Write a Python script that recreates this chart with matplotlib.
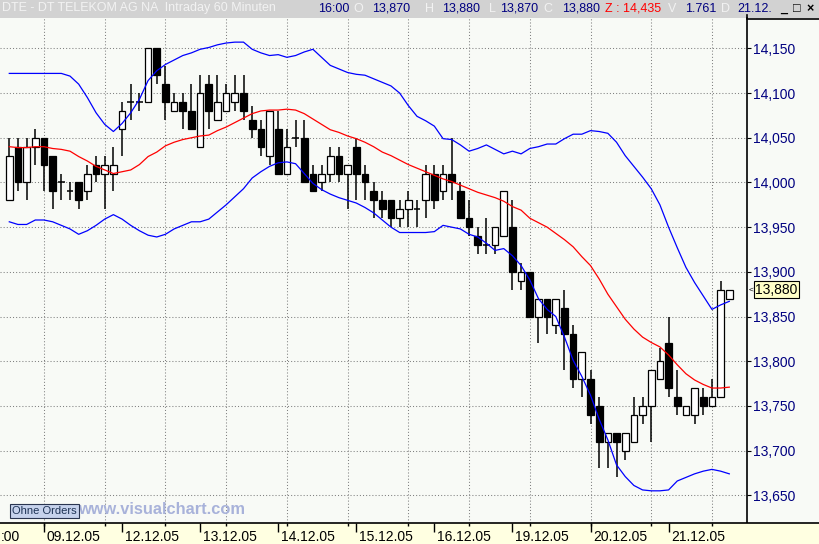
import matplotlib
matplotlib.use('Agg')
import matplotlib.pyplot as plt
from matplotlib.patches import Rectangle
from matplotlib.lines import Line2D
from matplotlib.ticker import FuncFormatter
import numpy as np

plt.rcParams['font.family'] = ['Liberation Sans', 'DejaVu Sans']

# --- Daten: DTE 60-Minuten-Kerzen 08.12.05 14:00 bis 21.12.05 16:00 ---
opens = [13.980, 14.040, 14.000, 14.040, 14.050, 14.030, 14.000, 13.990, 14.000, 13.990,
         14.020, 14.010, 14.010, 14.060, 14.090, 14.090, 14.090, 14.150, 14.110, 14.080,
         14.090, 14.080, 14.040, 14.110, 14.070, 14.080, 14.090, 14.100, 14.070, 14.060,
         14.030, 14.060, 14.010, 14.050, 14.050, 14.010, 14.000, 14.010, 14.030, 14.010,
         14.040, 14.010, 13.990, 13.980, 13.980, 13.960, 13.970, 13.970, 13.980, 14.010,
         13.990, 14.010, 13.990, 13.960, 13.940, 13.930, 13.930, 13.940, 13.950, 13.890,
         13.900, 13.850, 13.870, 13.840, 13.860, 13.830, 13.780, 13.780, 13.750, 13.710,
         13.720, 13.700, 13.710, 13.740, 13.750, 13.780, 13.820, 13.760, 13.740, 13.740,
         13.760, 13.750, 13.760, 13.870]
highs = [14.050, 14.050, 14.050, 14.060, 14.050, 14.030, 14.010, 14.000, 14.000, 14.020,
         14.030, 14.030, 14.040, 14.090, 14.110, 14.100, 14.150, 14.150, 14.130, 14.100,
         14.100, 14.110, 14.120, 14.120, 14.120, 14.110, 14.120, 14.120, 14.085, 14.070,
         14.080, 14.080, 14.060, 14.070, 14.070, 14.020, 14.020, 14.040, 14.040, 14.020,
         14.050, 14.020, 14.000, 13.990, 13.980, 13.980, 13.990, 13.980, 14.020, 14.020,
         14.020, 14.050, 14.000, 13.980, 13.950, 13.960, 13.950, 13.990, 13.980, 13.910,
         13.900, 13.870, 13.870, 13.870, 13.880, 13.840, 13.810, 13.790, 13.760, 13.720,
         13.720, 13.720, 13.760, 13.760, 13.790, 13.815, 13.850, 13.790, 13.750, 13.770,
         13.770, 13.780, 13.890, 13.880]
lows = [13.980, 13.990, 13.980, 14.020, 13.990, 13.970, 13.980, 13.980, 13.970, 13.980,
        14.000, 13.970, 13.990, 14.030, 14.070, 14.080, 14.090, 14.110, 14.070, 14.080,
        14.060, 14.060, 14.040, 14.060, 14.070, 14.080, 14.080, 14.070, 14.050, 14.030,
        14.020, 14.010, 14.010, 14.040, 14.000, 13.990, 13.990, 14.000, 14.000, 13.970,
        13.980, 13.980, 13.960, 13.960, 13.950, 13.950, 13.950, 13.950, 13.960, 13.970,
        13.980, 13.980, 13.960, 13.940, 13.920, 13.920, 13.920, 13.940, 13.880, 13.880,
        13.850, 13.820, 13.830, 13.830, 13.790, 13.770, 13.760, 13.730, 13.680, 13.680,
        13.670, 13.690, 13.710, 13.730, 13.710, 13.780, 13.760, 13.740, 13.740, 13.730,
        13.740, 13.750, 13.760, 13.870]
closes = [14.030, 14.000, 14.040, 14.050, 14.020, 13.990, 14.000, 13.990, 13.980, 14.010,
          14.010, 14.020, 14.020, 14.080, 14.090, 14.090, 14.150, 14.120, 14.090, 14.090,
          14.080, 14.060, 14.100, 14.080, 14.090, 14.100, 14.100, 14.080, 14.060, 14.040,
          14.080, 14.010, 14.040, 14.050, 14.000, 13.990, 14.010, 14.030, 14.010, 14.020,
          14.010, 14.000, 13.980, 13.970, 13.960, 13.970, 13.980, 13.970, 14.010, 13.980,
          14.010, 14.000, 13.960, 13.950, 13.930, 13.930, 13.950, 13.990, 13.900, 13.900,
          13.850, 13.870, 13.850, 13.870, 13.830, 13.780, 13.810, 13.740, 13.710, 13.720,
          13.710, 13.720, 13.740, 13.750, 13.790, 13.800, 13.770, 13.750, 13.750, 13.770,
          13.750, 13.760, 13.880, 13.880]

# Gleitender Durchschnitt (rot) und Bollinger-Baender (blau)
ma_line = [14.040, 14.039, 14.039, 14.040, 14.040, 14.038, 14.037, 14.035, 14.029, 14.024,
           14.018, 14.014, 14.010, 14.012, 14.014, 14.020, 14.029, 14.034, 14.041, 14.045,
           14.048, 14.050, 14.052, 14.053, 14.058, 14.062, 14.067, 14.072, 14.077, 14.080,
           14.081, 14.081, 14.082, 14.081, 14.077, 14.071, 14.065, 14.059, 14.056, 14.052,
           14.049, 14.045, 14.040, 14.034, 14.030, 14.025, 14.020, 14.016, 14.012, 14.008,
           14.004, 14.001, 13.997, 13.993, 13.989, 13.986, 13.983, 13.979, 13.973, 13.969,
           13.960, 13.955, 13.950, 13.943, 13.936, 13.928, 13.917, 13.907, 13.892, 13.875,
           13.861, 13.847, 13.836, 13.827, 13.821, 13.816, 13.807, 13.796, 13.786, 13.779,
           13.774, 13.770, 13.770, 13.771]
bb_upper = [14.122, 14.122, 14.122, 14.122, 14.122, 14.122, 14.122, 14.119, 14.110, 14.095,
            14.078, 14.065, 14.057, 14.066, 14.078, 14.093, 14.114, 14.125, 14.132, 14.137,
            14.142, 14.145, 14.149, 14.151, 14.154, 14.156, 14.157, 14.157, 14.149, 14.145,
            14.142, 14.143, 14.140, 14.142, 14.146, 14.149, 14.140, 14.131, 14.127, 14.123,
            14.121, 14.120, 14.116, 14.112, 14.108, 14.100, 14.086, 14.074, 14.069, 14.063,
            14.049, 14.048, 14.042, 14.035, 14.038, 14.042, 14.037, 14.032, 14.035, 14.032,
            14.038, 14.040, 14.043, 14.043, 14.049, 14.054, 14.054, 14.058, 14.057, 14.055,
            14.045, 14.030, 14.018, 14.006, 13.993, 13.975, 13.950, 13.927, 13.905, 13.888,
            13.873, 13.858, 13.863, 13.867]
bb_lower = [13.956, 13.953, 13.953, 13.958, 13.958, 13.956, 13.952, 13.948, 13.942, 13.946,
            13.952, 13.959, 13.964, 13.959, 13.952, 13.946, 13.941, 13.939, 13.942, 13.948,
            13.952, 13.956, 13.956, 13.959, 13.967, 13.975, 13.984, 13.993, 14.005, 14.012,
            14.018, 14.022, 14.023, 14.021, 14.010, 13.999, 13.992, 13.987, 13.983, 13.980,
            13.977, 13.972, 13.966, 13.958, 13.950, 13.944, 13.944, 13.944, 13.944, 13.945,
            13.952, 13.950, 13.948, 13.942, 13.939, 13.932, 13.924, 13.926, 13.918, 13.907,
            13.891, 13.870, 13.858, 13.850, 13.827, 13.801, 13.783, 13.762, 13.735, 13.712,
            13.684, 13.671, 13.661, 13.656, 13.655, 13.655, 13.656, 13.666, 13.670, 13.674,
            13.677, 13.679, 13.677, 13.674]

day_labels = ['09.12.05', '12.12.05', '13.12.05', '14.12.05', '15.12.05',
              '16.12.05', '19.12.05', '20.12.05', '21.12.05']
day_start = [4, 13, 22, 31, 40, 49, 58, 67, 76]     # erste Kerze des Tages
grid_bars = [4, 11, 18, 25, 32, 39, 46, 53, 60, 67, 74, 81]
price_ticks = [13.65, 13.70, 13.75, 13.80, 13.85, 13.90, 13.95, 14.00, 14.05, 14.10, 14.15]
last_price = 13.880

# --- Figur ---
W, H = 819, 544
fig = plt.figure(figsize=(W / 100, H / 100), dpi=100)
bg = '#F8FAF6'
fig.patch.set_facecolor(bg)

def fy(py):
    return 1 - py / H

ax = fig.add_axes([0, fy(523), 747 / W, (523 - 18) / H])
ax.set_facecolor(bg)

x = np.arange(len(opens))
o = np.array(opens); c = np.array(closes)
hi = np.array(highs); lo = np.array(lows)
bw = 0.77

# Dochte
ax.vlines(x, lo, hi, color='black', lw=1.1, zorder=3)
up = c > o
down = c < o
doji = c == o
ax.bar(x[up], (c - o)[up], bottom=o[up], width=bw, facecolor='white',
       edgecolor='black', linewidth=0.9, zorder=4)
ax.bar(x[down], (o - c)[down], bottom=c[down], width=bw, facecolor='black',
       edgecolor='black', linewidth=0.9, zorder=4)
ax.hlines(c[doji], x[doji] - bw / 2, x[doji] + bw / 2, color='black', lw=1.1, zorder=4)

# Indikatoren
ax.plot(x, ma_line, color='#FF0000', lw=0.9, zorder=5)
ax.plot(x, bb_upper, color='#0000FF', lw=0.9, zorder=5)
ax.plot(x, bb_lower, color='#0000FF', lw=0.9, zorder=5)

ax.set_xlim(-1.07, 85.04)
ax.set_ylim(13.619, 14.184)

# Gitter
ax.set_xticks(grid_bars)
ax.set_yticks(price_ticks)
ax.grid(True, color='#808080', lw=0.75, linestyle=(0, (1, 2)), zorder=1)
ax.set_axisbelow(True)
ax.tick_params(axis='x', length=0, labelbottom=False)
ax.yaxis.tick_right()
ax.tick_params(axis='y', direction='out', length=3, width=0.8, pad=1.5,
               labelsize=10, labelcolor='#000080', color='black')
ax.yaxis.set_major_formatter(FuncFormatter(lambda v, p: f'{v:.3f}'.replace('.', ',')))
for s in ['top', 'left', 'bottom']:
    ax.spines[s].set_visible(False)
ax.spines['right'].set_color('black')
ax.spines['right'].set_linewidth(1.2)

# Letzter Kurs
ytr = ax.get_yaxis_transform()
ax.text(1.011, last_price, f'{last_price:.3f}'.replace('.', ','), transform=ytr,
        ha='left', va='center', fontsize=10, color='black', zorder=10, clip_on=False,
        bbox=dict(boxstyle='square,pad=0.12', fc='#FFFFC8', ec='black', lw=0.8))
ax.text(1.002, last_price, '<', transform=ytr, ha='left', va='center',
        fontsize=6, color='black', clip_on=False)

# --- Datumsleiste unten ---
bx = fig.add_axes([0, 0, 1, 21 / H])
bx.set_facecolor('#FFFFE1')
bx.set_xlim(-1.07, (W - 9.3) / 8.675)
bx.set_ylim(0, 1)
bx.set_xticks([]); bx.set_yticks([])
for s in ['left', 'right', 'bottom']:
    bx.spines[s].set_visible(False)
bx.spines['top'].set_color('black')
bx.spines['top'].set_linewidth(1.2)
bx.vlines(day_start, 0.55, 1, color='black', lw=1.0)
bx.vlines(grid_bars, 0.85, 1, color='black', lw=1.0)
for d, lab in zip(day_start, day_labels):
    bx.text(d + 0.3, 0.33, lab, ha='left', va='center', fontsize=10, color='black')
# Rest der abgeschnittenen Zeitangabe am linken Rand
fig.text(0.5 / W, fy(537), ':00', ha='left', va='center', fontsize=10, color='black')

# --- Kopfzeile ---
fig.add_artist(Rectangle((0, fy(18)), 1, 18 / H, transform=fig.transFigure,
                         fc='#D2D2D2', ec='none', zorder=0))
fig.add_artist(Line2D([747 / W, 1], [fy(18.5), fy(18.5)], color='black', lw=1.2))
fig.add_artist(Line2D([747 / W, 747 / W], [fy(18), fy(15)], color='black', lw=1.2))
hy = fy(8.5)
faded = '#F2F2F2'
fig.text(2 / W, hy, 'DTE - DT TELEKOM AG NA  Intraday 60 Minuten', ha='left', va='center',
         fontsize=9, color=faded)
head = [(334, '16:00', '#000080'), (391, '13,870', '#000080'), (461, '13,880', '#000080'),
        (519, '13,870', '#000080'), (581, '13,880', '#000080'), (633, 'Z : 14,435', '#FF0000'),
        (701, '1.761', '#000080'), (755, '21.12.', '#000080')]
for px, t, col in head:
    fig.text(px / W, hy, t, ha='center', va='center', fontsize=9, color=col)
for px, t in [(358, 'O'), (430, 'H'), (492, 'L'), (548, 'C'), (672, 'V'), (725, 'D')]:
    fig.text(px / W, hy, t, ha='center', va='center', fontsize=9, color=faded)
for px, t in [(784, '_'), (797, '□'), (810, '×')]:
    fig.text(px / W, fy(9), t, ha='center', va='center', fontsize=9, color='black',
             fontweight='bold')

# --- Wasserzeichen und Schaltflaeche ---
fig.text(78 / W, fy(509), 'www.visualchart.com', ha='left', va='center', fontsize=11.8,
         fontweight='bold', color='#A8B2DA', zorder=6)
fig.text(12 / W, fy(511), 'Ohne Orders', ha='left', va='center', fontsize=8,
         color='#1E3355', zorder=7,
         bbox=dict(boxstyle='square,pad=0.2', fc='#C6D2EC', ec='#2A3550', lw=0.8))

fig.savefig('out.png', dpi=100, facecolor=fig.get_facecolor())
